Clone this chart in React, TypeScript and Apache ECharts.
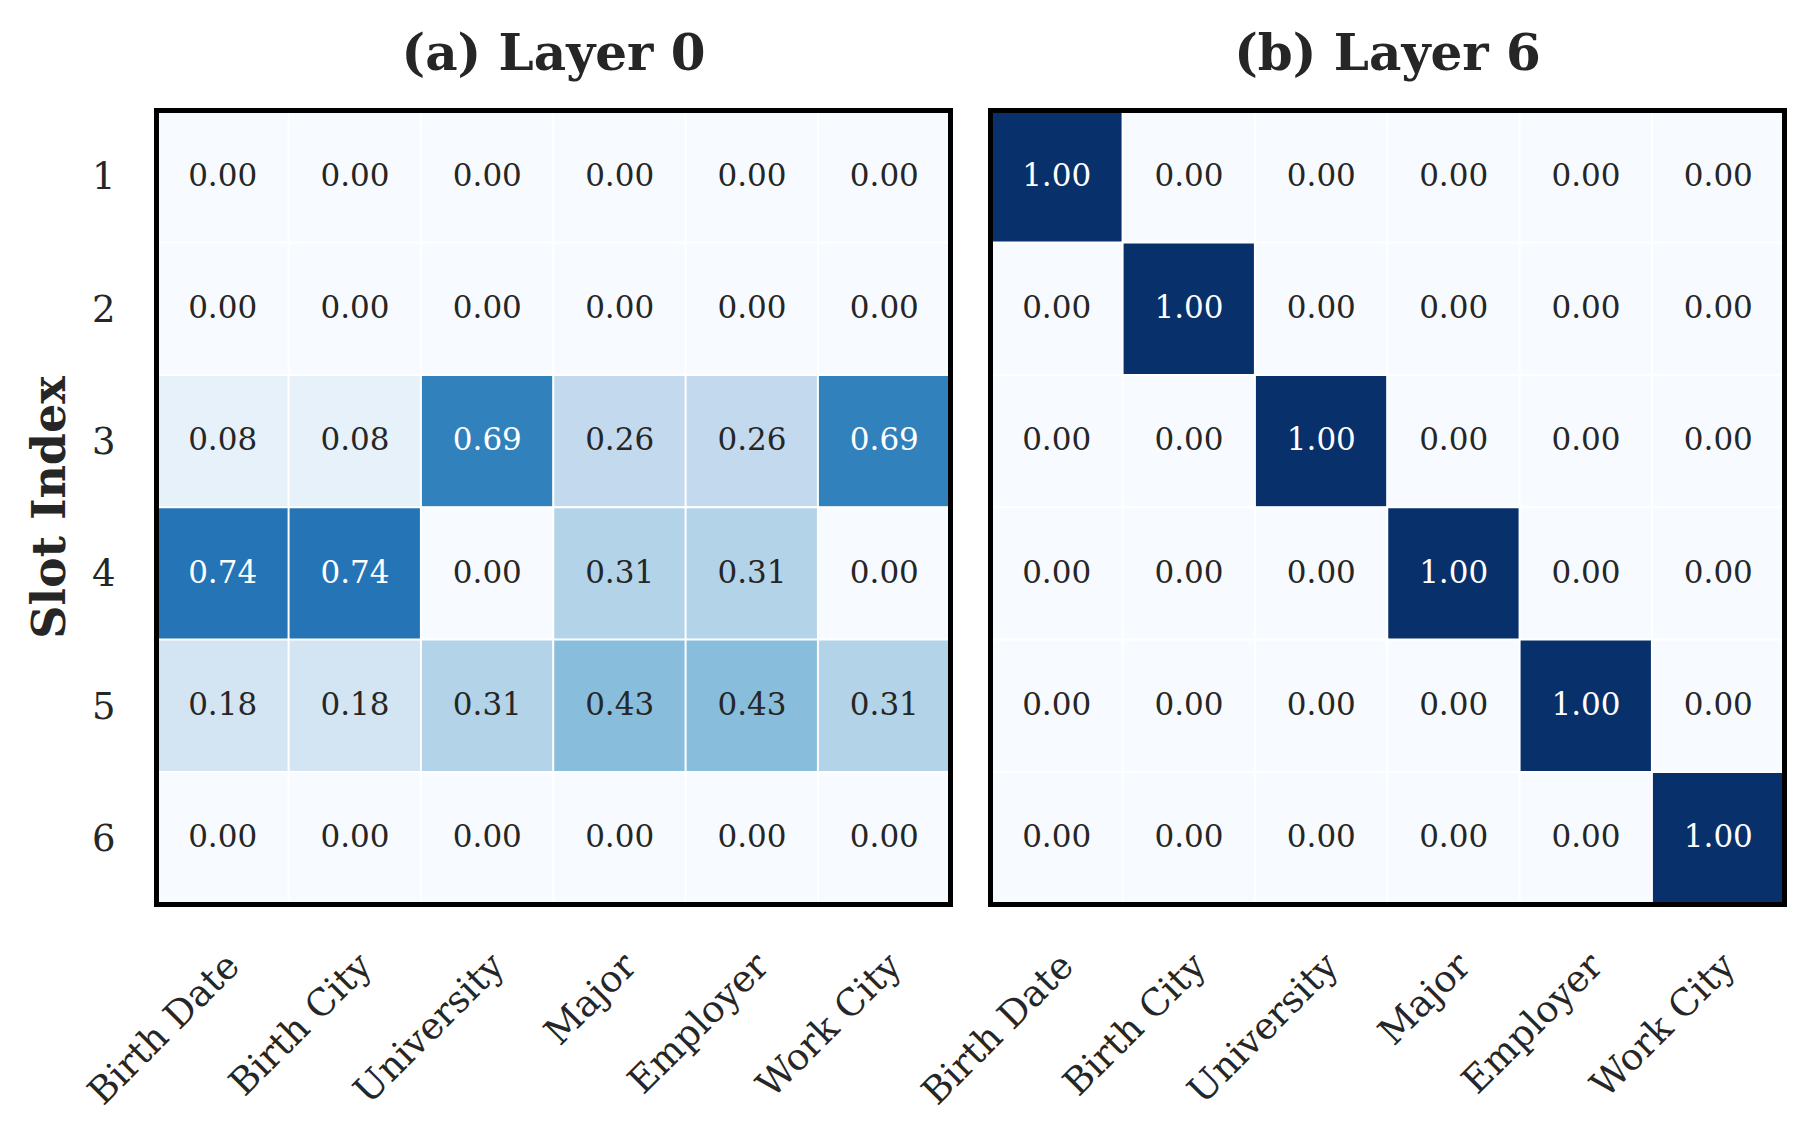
import React, { useEffect, useRef } from "react";
import * as echarts from "echarts";

const columns = ["Birth Date", "Birth City", "University", "Major", "Employer", "Work City"];
const slots = ["1", "2", "3", "4", "5", "6"];
const titles = ["(a) Layer 0", "(b) Layer 6"];
const yAxisTitle = "Slot Index";

// rows = slots 1..6, cols = columns
const layer0 = [
  [0.0, 0.0, 0.0, 0.0, 0.0, 0.0],
  [0.0, 0.0, 0.0, 0.0, 0.0, 0.0],
  [0.08, 0.08, 0.69, 0.26, 0.26, 0.69],
  [0.74, 0.74, 0.0, 0.31, 0.31, 0.0],
  [0.18, 0.18, 0.31, 0.43, 0.43, 0.31],
  [0.0, 0.0, 0.0, 0.0, 0.0, 0.0],
];
const layer6 = [
  [1.0, 0.0, 0.0, 0.0, 0.0, 0.0],
  [0.0, 1.0, 0.0, 0.0, 0.0, 0.0],
  [0.0, 0.0, 1.0, 0.0, 0.0, 0.0],
  [0.0, 0.0, 0.0, 1.0, 0.0, 0.0],
  [0.0, 0.0, 0.0, 0.0, 1.0, 0.0],
  [0.0, 0.0, 0.0, 0.0, 0.0, 1.0],
];

const blues = ["#f7fbff", "#deebf7", "#c6dbef", "#9ecae1", "#6baed6", "#4292c6", "#2171b5", "#08519c", "#08306b"];

const W = 1813;
const H = 1139;
const GRID_TOP = 110.5;
const GRID_SIZE = 794;
const GRID_LEFTS = [156.5, 990.5];
const LABEL_SHIFT = 10; // rotated tick labels sit slightly right of the cell centres
const TEXT = "#262626";
const FONT = "DejaVu Serif";

function toData(m: number[][]) {
  const out: any[] = [];
  m.forEach((row, r) => {
    row.forEach((v, c) => {
      out.push({
        value: [c, r, v],
        label: { color: v > 0.55 ? "#ffffff" : TEXT },
      });
    });
  });
  return out;
}

export default function App() {
  const ref = useRef<HTMLDivElement>(null);
  useEffect(() => {
    if (!ref.current) return;
    const chart = echarts.init(ref.current, undefined, { renderer: "svg" });
    const mats = [layer0, layer6];
    const hiddenAxis = {
      axisLine: { show: false },
      axisTick: { show: false },
      splitLine: { show: false },
    };
    const option: any = {
      animation: false,
      backgroundColor: "#ffffff",
      grid: [
        ...GRID_LEFTS.map((l) => ({ left: l, top: GRID_TOP, width: GRID_SIZE, height: GRID_SIZE })),
        ...GRID_LEFTS.map((l) => ({ left: l + LABEL_SHIFT, top: GRID_TOP, width: GRID_SIZE, height: GRID_SIZE })),
      ],
      xAxis: [
        ...GRID_LEFTS.map((_, i) => ({
          type: "category",
          gridIndex: i,
          data: columns,
          ...hiddenAxis,
          axisLabel: { show: false },
        })),
        ...GRID_LEFTS.map((_, i) => ({
          type: "category",
          gridIndex: i + 2,
          data: columns,
          ...hiddenAxis,
          axisLabel: {
            interval: 0,
            rotate: 45,
            margin: 55,
            fontFamily: FONT,
            fontSize: 37,
            color: TEXT,
          },
        })),
      ],
      yAxis: [
        ...GRID_LEFTS.map((_, i) => ({
          type: "category",
          gridIndex: i,
          data: slots,
          inverse: true,
          ...hiddenAxis,
          axisLabel: {
            show: i === 0,
            margin: 41,
            fontFamily: FONT,
            fontSize: 37,
            color: TEXT,
          },
        })),
        ...GRID_LEFTS.map((_, i) => ({
          type: "category",
          gridIndex: i + 2,
          data: slots,
          inverse: true,
          show: false,
        })),
      ],
      visualMap: {
        show: false,
        type: "continuous",
        min: 0,
        max: 1,
        seriesIndex: [0, 1],
        dimension: 2,
        inRange: { color: blues },
      },
      series: mats.map((m, i) => ({
        type: "heatmap",
        xAxisIndex: i,
        yAxisIndex: i,
        data: toData(m),
        itemStyle: { borderColor: "#ffffff", borderWidth: 2 },
        emphasis: { disabled: true },
        label: {
          show: true,
          fontFamily: FONT,
          fontSize: 31,
          offset: [0, -2],
          formatter: (p: any) => p.value[2].toFixed(2),
        },
      })),
      graphic: [
        ...GRID_LEFTS.map((l) => ({
          type: "rect",
          z: 100,
          shape: { x: l, y: GRID_TOP, width: GRID_SIZE, height: GRID_SIZE },
          style: { fill: "none", stroke: "#000000", lineWidth: 5 },
        })),
        ...GRID_LEFTS.map((l, i) => ({
          type: "text",
          z: 100,
          x: l + GRID_SIZE / 2,
          y: 52,
          style: {
            text: titles[i],
            fontFamily: FONT,
            fontWeight: "bold",
            fontSize: 50,
            fill: TEXT,
            align: "center",
            verticalAlign: "middle",
          },
        })),
        {
          type: "text",
          z: 100,
          x: 49,
          y: GRID_TOP + GRID_SIZE / 2,
          rotation: Math.PI / 2,
          style: {
            text: yAxisTitle,
            fontFamily: FONT,
            fontWeight: "bold",
            fontSize: 46,
            fill: TEXT,
            align: "center",
            verticalAlign: "middle",
          },
        },
      ],
    };
    chart.setOption(option);
    return () => chart.dispose();
  }, []);
  return (
    <div
      ref={ref}
      style={{ position: "fixed", left: 0, top: 0, width: W + "px", height: H + "px", background: "#fff" }}
    />
  );
}
